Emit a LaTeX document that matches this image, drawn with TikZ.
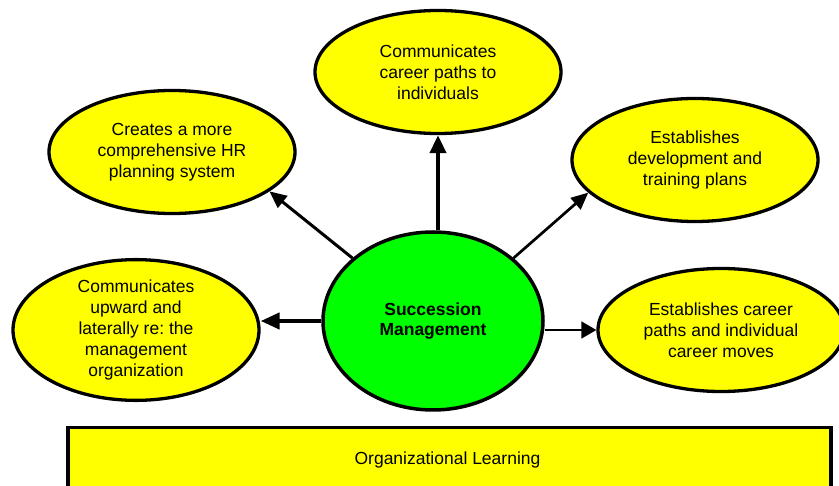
\documentclass[tikz,border=0pt]{standalone}
\usepackage{fontspec}
\setmainfont{Liberation Sans}
\frenchspacing
\usetikzlibrary{arrows.meta,shapes.geometric}
\definecolor{yel}{HTML}{FFFF00}
\definecolor{grn}{HTML}{00FF00}
\tikzset{
  ell/.style={ellipse, draw=black, line width=3.3pt, fill=yel, inner sep=0pt,
    minimum width=246pt, minimum height=123pt, align=center,
    font=\fontsize{17.5}{20.8}\selectfont},
  arr/.style={draw=black, -{Triangle[length=17pt,width=15pt]}},
}
\begin{document}
\begin{tikzpicture}[x=1pt,y=-1pt]
\useasboundingbox (0,0) rectangle (839,486);
\fill[white] (0,0) rectangle (839,486);
\node[ell] (top) at (438,72) {Communicates\\career paths to\\individuals};
\node[ell] (ul) at (172,152) {Creates a more\\comprehensive HR\\planning system};
\node[ell] (ur) at (695,160) {Establishes\\development and\\training plans};
\node[ell] (ll) at (136,330) {Communicates\\upward and\\laterally re: the\\management\\organization};
\node[ell] (lr) at (721,330) {Establishes career\\paths and individual\\career moves};
\node[ellipse, draw=black, line width=3.5pt, fill=grn, inner sep=0pt,
  minimum width=220pt, minimum height=178pt, align=center,
  font=\fontsize{17.5}{20.8}\selectfont\bfseries] (g) at (433,321) {Succession\\Management};
\node[draw=black, line width=3.5pt, fill=yel, minimum width=763pt, minimum height=70pt,
  inner sep=0pt, anchor=north west] (ol) at (66,426) {};
\node[font=\fontsize{17.5}{20.8}\selectfont] (olt) at (447.5,460) {Organizational Learning};
\draw[arr, line width=4pt, -{Triangle[length=18pt,width=16pt]}] (top.south |- g.north) -- (top.south);
\draw[arr, line width=3pt] (g.142) -- (ul.-22);
\draw[arr, line width=2.7pt] (g.38) -- (ur.197);
\draw[arr, line width=4.3pt, -{Triangle[length=19pt,width=16pt]}] (g.west) -- (g.west -| ll.east);
\draw[arr, line width=1.7pt, -{Triangle[length=15pt,width=17pt]}] (lr.west -| g.east) -- (lr.west);
\end{tikzpicture}
\end{document}
